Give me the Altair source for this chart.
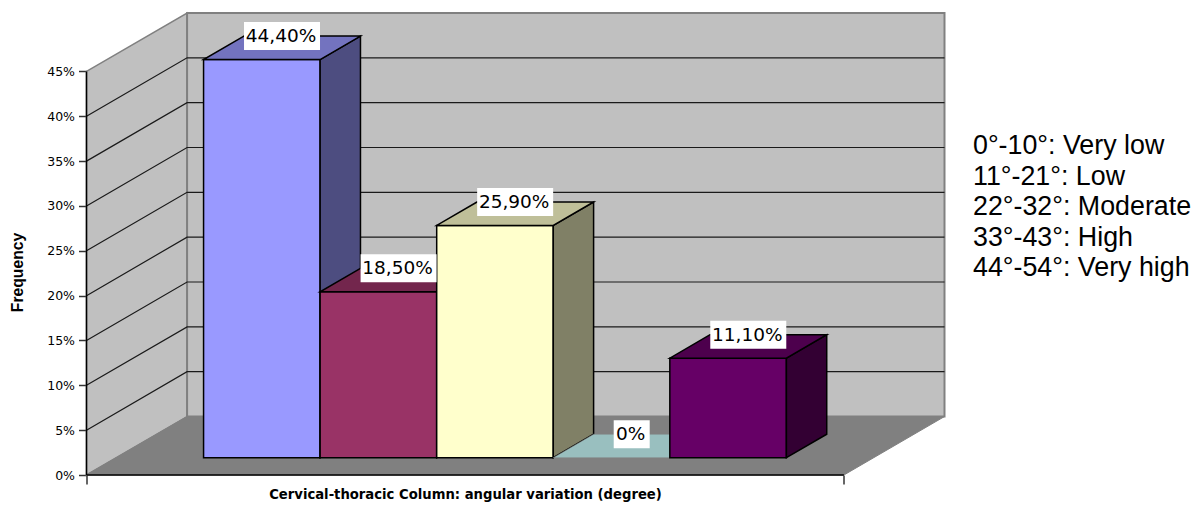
import altair as alt
import pandas as pd

# Survey result: share of cases per angular variation class
values = [44.4, 18.5, 25.9, 0.0, 11.1]
value_labels = ["44,40%", "18,50%", "25,90%", "0%", "11,10%"]
front_colors = ["#9999FF", "#993366", "#FFFFCC", "#CCFFFF", "#660066"]
side_colors = ["#4D4D80", "#4D1A33", "#808066", "#668080", "#330033"]
top_colors = ["#7373BF", "#73264D", "#BFBF99", "#99BFBF", "#4D004D"]
y_ticks = [0, 5, 10, 15, 20, 25, 30, 35, 40, 45]
note_lines = ["0°-10°: Very low", "11°-21°: Low", "22°-32°: Moderate",
              "33°-43°: High", "44°-54°: Very high"]

# Oblique projection: depth 0 is the front edge of the floor, depth 1 the back wall
CATS = 5
DEPTH_X = 0.664
DEPTH_V = 6.52
BAR_W = 0.7695
BAR_GAP = (CATS - CATS * BAR_W) / 2
BAR_FRONT = 0.296
BAR_BACK = 0.697
WALL_TOP = 45
PX_X = 858 / (CATS + DEPTH_X)
PX_V = 462 / (WALL_TOP + DEPTH_V)

x_scale = alt.Scale(domain=[0, CATS + DEPTH_X], nice=False, zero=False)
y_scale = alt.Scale(domain=[0, WALL_TOP + DEPTH_V], nice=False, zero=False)
FONT = "DejaVu Sans"
BOLD = "Liberation Sans"

# Every layer carries the same axis definitions so that they merge into one pair
x_axis = alt.Axis(
    values=[0, CATS], labels=False, grid=False, domain=False,
    tickColor="#333333", tickSize=9, tickWidth=1.5,
    title="Cervical-thoracic Column: angular variation (degree)",
    titleFont=FONT, titleFontSize=13.2, titleFontWeight="bold", titleColor="#000000",
    titleX=378.5, titleY=13, titleAlign="center",
)
y_axis = alt.Axis(
    values=y_ticks, labelExpr="datum.value + '%'", grid=False, domain=False,
    tickColor="#333333", tickSize=8, tickWidth=1.5,
    labelFont=FONT, labelFontSize=12.5, labelColor="#000000", labelPadding=4,
    title="Frequency", titleFont=BOLD, titleFontSize=15.7, titleFontWeight="bold",
    titleColor="#000000", titleX=-61, titleY=259, titleAlign="center",
)


def X(field):
    return alt.X(field, scale=x_scale, axis=x_axis)


def Y(field):
    return alt.Y(field, scale=y_scale, axis=y_axis)


def project(x, v, depth):
    return x + depth * DEPTH_X, v + depth * DEPTH_V


def vertical_face(p0, p1, p2, p3, fill, stroke, width):
    """Quad with two vertical edges: p0-p1 on the left, p3-p2 on the right."""
    df = pd.DataFrame({"x": [p0[0], p3[0]], "a": [p0[1], p3[1]], "b": [p1[1], p2[1]]})
    return alt.Chart(df).mark_area(fill=fill, stroke=stroke, strokeWidth=width, clip=False).encode(
        x=X("x:Q"), y=Y("a:Q"), y2="b:Q",
    )


def horizontal_face(p0, p1, p2, p3, fill, stroke, width):
    """Quad with two horizontal edges: p0-p1 at the bottom, p3-p2 at the top."""
    df = pd.DataFrame({"v": [p0[1], p3[1]], "a": [p0[0], p3[0]], "b": [p1[0], p2[0]]})
    return alt.Chart(df).mark_area(orient="horizontal", fill=fill, stroke=stroke, strokeWidth=width, clip=False).encode(
        y=Y("v:Q"), x=X("a:Q"), x2="b:Q",
    )


layers = []

# Left wall, back wall and floor
layers.append(vertical_face(project(0, 0, 0), project(0, WALL_TOP, 0),
                            project(0, WALL_TOP, 1), project(0, 0, 1), "#C0C0C0", "#808080", 1.5))
layers.append(vertical_face(project(0, 0, 1), project(0, WALL_TOP, 1),
                            project(CATS, WALL_TOP, 1), project(CATS, 0, 1), "#C0C0C0", "#808080", 2))
layers.append(horizontal_face(project(0, 0, 0), project(CATS, 0, 0),
                              project(CATS, 0, 1), project(0, 0, 1), "#808080", "#808080", 1))

# Gridlines across both walls
grid_rows = []
for v in y_ticks[1:-1]:
    for depth in (0, 1):
        px, pv = project(0, v, depth)
        grid_rows.append({"tick": v, "x": px, "v": pv})
    px, pv = project(CATS, v, 1)
    grid_rows.append({"tick": v, "x": px, "v": pv})
layers.append(alt.Chart(pd.DataFrame(grid_rows)).mark_line(color="#1a1a1a", strokeWidth=1.2).encode(
    x=X("x:Q"), y=Y("v:Q"), detail="tick:N", order="x:Q",
))

# Bars, drawn left to right so each one overlaps its neighbour's side face
for i, value in enumerate(values):
    x0 = BAR_GAP + i * BAR_W
    x1 = x0 + BAR_W
    f00 = project(x0, 0, BAR_FRONT)
    f0v = project(x0, value, BAR_FRONT)
    f10 = project(x1, 0, BAR_FRONT)
    f1v = project(x1, value, BAR_FRONT)
    b10 = project(x1, 0, BAR_BACK)
    b1v = project(x1, value, BAR_BACK)
    b0v = project(x0, value, BAR_BACK)
    if value > 0:
        layers.append(vertical_face(f00, f0v, f1v, f10, front_colors[i], "#000000", 1.5))
        layers.append(vertical_face(f10, f1v, b1v, b10, side_colors[i], "#000000", 1.5))
        layers.append(horizontal_face(f0v, f1v, b1v, b0v, top_colors[i], "#000000", 1.5))
    else:
        layers.append(horizontal_face(f0v, f1v, b1v, b0v, top_colors[i], "#808080", 0.5))

# Value labels on white plates, centred over each bar's top face
label_rows = []
for i, (value, text) in enumerate(zip(values, value_labels)):
    cx, _ = project(BAR_GAP + (i + 0.5) * BAR_W, value, (BAR_FRONT + BAR_BACK) / 2)
    _, cv = project(0, value, BAR_BACK)
    half_w = (38 if len(text) > 2 else 18) / PX_X
    half_h = 14 / PX_V
    label_rows.append({"text": text, "x": cx, "v": cv, "x0": cx - half_w, "x1": cx + half_w,
                       "v0": cv - half_h, "v1": cv + half_h})
labels = pd.DataFrame(label_rows)
layers.append(alt.Chart(labels).mark_rect(fill="#FFFFFF").encode(
    x=X("x0:Q"), x2="x1:Q", y=Y("v0:Q"), y2="v1:Q",
))
layers.append(alt.Chart(labels).mark_text(font=FONT, fontSize=18.5, color="#000000", dx=-1).encode(
    x=X("x:Q"), y=Y("v:Q"), text="text:N",
))

# Front axis lines along the left wall and the floor
layers.append(alt.Chart(pd.DataFrame({"v0": [0], "v1": [WALL_TOP], "x": [0]})).mark_rule(color="#000000", strokeWidth=1.5).encode(
    x=X("x:Q"), y=Y("v0:Q"), y2="v1:Q",
))
layers.append(alt.Chart(pd.DataFrame({"x0": [0], "x1": [CATS], "v": [0]})).mark_rule(color="#000000", strokeWidth=1.5).encode(
    x=X("x0:Q"), x2="x1:Q", y=Y("v:Q"),
))

# Class definitions listed to the right of the plot
layers.append(alt.Chart(pd.DataFrame({"note": ["\n".join(note_lines)]})).mark_text(
    font="Liberation Sans", fontSize=26.8, lineBreak="\n", lineHeight=30.5,
    align="left", baseline="top", color="#000000",
).encode(x=alt.value(886.5), y=alt.value(120), text="note:N"))

chart = alt.layer(*layers).properties(
    width=858,
    height=462,
    padding={"left": 86.5, "top": 13, "right": 257.5, "bottom": 30},
    autosize=alt.AutoSizeParams(type="none"),
).configure_view(stroke=None)

chart.save("out.html", embed_options={"renderer": "svg", "actions": False})
